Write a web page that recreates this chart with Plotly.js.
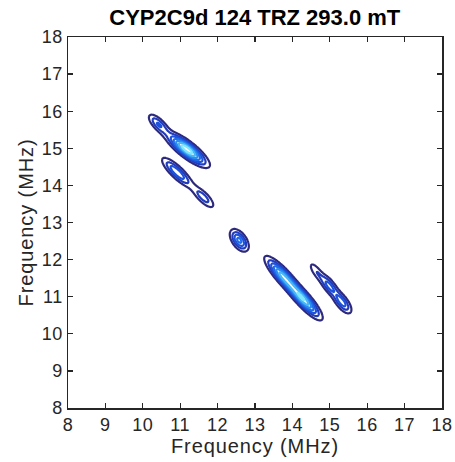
<!DOCTYPE html>
<html>
<head>
<meta charset="utf-8">
<script src="https://cdn.plot.ly/plotly-3.0.1.min.js"></script>
<style>
html,body{margin:0;padding:0;background:#fff}
#chart{width:455px;height:462px}
#chart .xtitle, #chart .ytitle{letter-spacing:0.9px}
#chart .xtick text, #chart .ytick text{letter-spacing:0.6px}
</style>
</head>
<body>
<div id="chart"></div>
<script>
// Peak (lobe) parameters, in MHz
const peakX     = [10.42, 11.18, 10.92, 11.62, 12.58, 13.75, 14.30, 14.64, 14.98, 15.33];
const peakY     = [15.65, 14.97, 14.35, 13.68, 12.52, 11.55, 10.92, 11.68, 11.30, 10.85];
const peakAmp   = [0.38,  1.00,  0.50,  0.32,  0.55,  0.80,  0.85,  0.22,  0.42,  0.45];
const peakLong  = [0.22,  0.37,  0.32,  0.25,  0.20,  0.37,  0.37,  0.20,  0.22,  0.22];
const peakShort = [0.09,  0.11,  0.095, 0.09,  0.11,  0.10,  0.10,  0.075, 0.09,  0.095];
const peakAngle = [-45,   -38,   -44,   -45,   -55,   -48,   -48,   -55,   -53,   -53];

const xTicks = [8, 9, 10, 11, 12, 13, 14, 15, 16, 17, 18];
const yTicks = [8, 9, 10, 11, 12, 13, 14, 15, 16, 17, 18];

const gridX = [], gridY = [];
for (let v = 9.5; v <= 16.5001; v += 0.02) gridX.push(+v.toFixed(3));
for (let v = 9.5; v <= 16.5001; v += 0.02) gridY.push(+v.toFixed(3));

const z = gridY.map(y => gridX.map(x => {
  let s = 0;
  for (let i = 0; i < peakX.length; i++) {
    const a = peakAngle[i] * Math.PI / 180;
    const dx = x - peakX[i], dy = y - peakY[i];
    const u = dx * Math.cos(a) + dy * Math.sin(a);
    const w = -dx * Math.sin(a) + dy * Math.cos(a);
    s += peakAmp[i] * Math.exp(-0.5 * (u * u / (peakLong[i] ** 2) + w * w / (peakShort[i] ** 2)));
  }
  return s;
}));

const trace = {
  type: 'contour',
  x: gridX, y: gridY, z: z,
  showscale: false,
  contours: {coloring: 'lines', start: 0.12, end: 1.0, size: 0.13},
  line: {width: 2.2, smoothing: 1},
  colorscale: [[0, '#2d2a7e'], [0.2, '#1f3fcc'], [0.45, '#1e62e6'], [0.75, '#2f9ef2'], [1, '#7ee6ff']],
  hoverinfo: 'skip'
};

const FONT = 'Liberation Sans, Arial, Helvetica, sans-serif';
const axisCommon = {
  range: [8, 18], tickvals: xTicks, ticks: 'inside', ticklen: 5, tickwidth: 1.3,
  tickcolor: '#262626', showline: true, linecolor: '#262626', linewidth: 1.5,
  mirror: 'ticks', showgrid: false, zeroline: false,
  tickfont: {family: FONT, size: 18, color: '#262626'}
};

const layout = {
  width: 455, height: 462,
  margin: {l: 68, r: 13, t: 37, b: 54},
  paper_bgcolor: '#fff', plot_bgcolor: '#fff',
  title: {text: '<b>CYP2C9d 124 TRZ 293.0 mT</b>', x: 0.56, xanchor: 'center', y: 0.963, yanchor: 'middle',
          font: {family: FONT, size: 22, color: '#000'}},
  xaxis: Object.assign({}, axisCommon, {
    title: {text: 'Frequency (MHz)', standoff: 0, font: {family: FONT, size: 20, color: '#262626'}}
  }),
  yaxis: Object.assign({}, axisCommon, {
    tickvals: yTicks,
    title: {text: 'Frequency (MHz)', standoff: 4, font: {family: FONT, size: 20, color: '#262626'}}
  }),
  showlegend: false
};

Plotly.newPlot('chart', [trace], layout, {displayModeBar: false, staticPlot: true});
</script>
</body>
</html>
